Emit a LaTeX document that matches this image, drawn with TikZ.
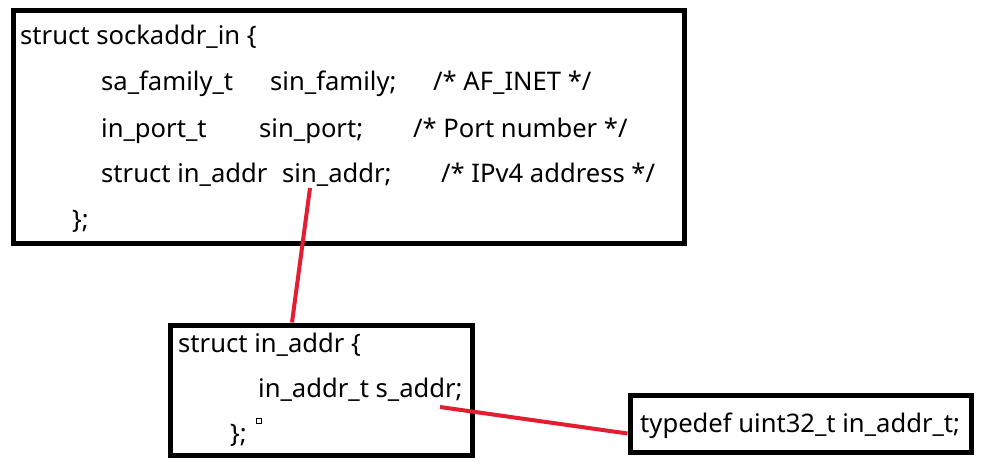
\documentclass[tikz,border=0pt]{standalone}
\usepackage{fontspec}
\setmainfont{Noto Sans}
\definecolor{linkred}{RGB}{228,30,50}
\tikzset{
  codebox/.style={shape=rectangle,draw=black,line width=5pt,inner sep=0pt},
  code/.style={anchor=base west,inner sep=0pt,font=\fontsize{25.6}{30}\selectfont}
}
\begin{document}
\begin{tikzpicture}[x=1pt,y=-1pt]
  \useasboundingbox[fill=white] (0,0) rectangle (984,468);
  % boxes
  \node[codebox,minimum width=671pt,minimum height=232pt] (sockbox) at (348.5,127) {};
  \node[codebox,minimum width=302pt,minimum height=130pt] (addrbox) at (321,390) {};
  \node[codebox,minimum width=341pt,minimum height=57pt] (tdbox) at (800.5,423.5) {};
  % struct sockaddr_in
  \node[code] (s1) at (20,45) {struct sockaddr\_in \{};
  \node[code] (s2a) at (101,91) {sa\_family\_t};
  \node[code] (s2b) at (270,91) {sin\_family;};
  \node[code] (s2c) at (433,91) {/* AF\_INET */};
  \node[code] (s3a) at (101,137) {in\_port\_t};
  \node[code] (s3b) at (259,137) {sin\_port;};
  \node[code] (s3c) at (413,137) {/* Port number */};
  \node[code] (s4a) at (101,182) {struct in\_addr};
  \node[code] (s4b) at (282,182) {sin\_addr;};
  \node[code] (s4c) at (441,182) {/* IPv4 address */};
  \node[code] (s5) at (72,228) {\};};
  % struct in_addr
  \node[code] (a1) at (178,352) {struct in\_addr \{};
  \node[code] (a2) at (258,397) {in\_addr\_t s\_addr;};
  \node[code] (a3) at (230,442) {\};};
  \node[draw=black,line width=1.2pt,minimum size=5pt,inner sep=0pt] (dot) at (259,421) {};
  % typedef
  \node[code] (t1) at (640,432) {typedef uint32\_t in\_addr\_t;};
  % links
  \coordinate (sinaddr) at (310,188);
  \coordinate (saddr) at (440,407);
  \path [linkred,line width=4pt](sinaddr) edge ([xshift=-29pt]addrbox.north);
  \path [linkred,line width=4pt](saddr) edge ([yshift=-10pt]tdbox.west);
\end{tikzpicture}
\end{document}
